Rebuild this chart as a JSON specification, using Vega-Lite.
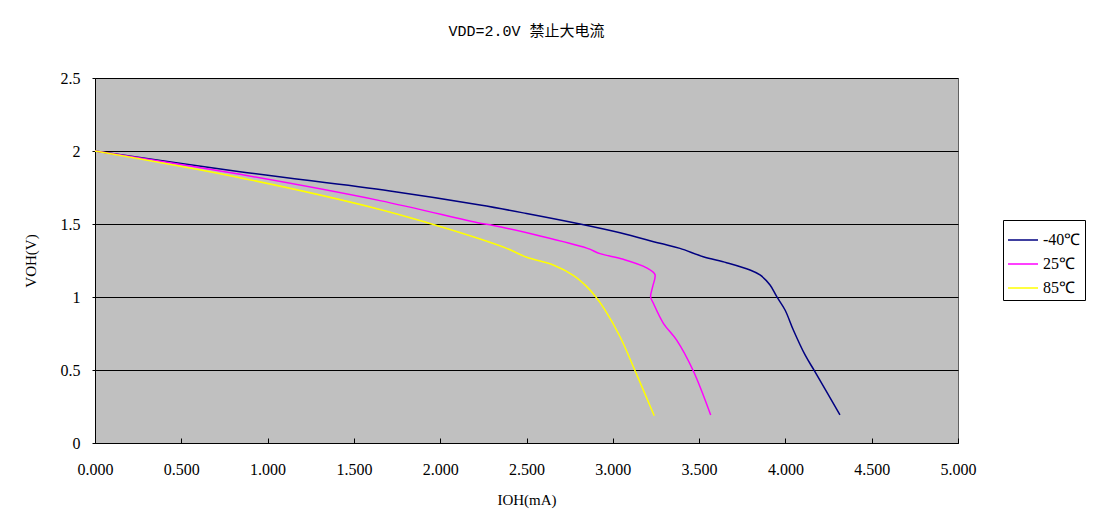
{
  "$schema": "https://vega.github.io/schema/vega-lite/v6.json",
  "autosize": {"type": "none"},
  "padding": {"left": 95, "top": 78, "right": 137, "bottom": 79},
  "width": 863,
  "height": 365,
  "background": "#ffffff",
  "title": {
    "text": "VDD=2.0V 禁止大电流",
    "font": "Liberation Mono, Noto Sans CJK SC",
    "fontSize": 15,
    "fontWeight": "normal",
    "color": "#000000",
    "anchor": "middle",
    "offset": 31
  },
  "config": {
    "view": {"fill": "#c0c0c0", "stroke": "#606060", "strokeWidth": 1},
    "font": "Liberation Serif",
    "axis": {
      "labelFont": "Liberation Serif",
      "titleFont": "Liberation Serif",
      "labelFontSize": 16,
      "titleFontSize": 15,
      "titleFontWeight": "normal",
      "labelColor": "#000000",
      "titleColor": "#000000",
      "domainColor": "#000000",
      "tickColor": "#000000"
    },
    "legend": {
      "labelFont": "Liberation Serif"
    }
  },
  "data": {
    "values": [
      {"series": "-40℃", "order": 1, "ioh": 0.0, "voh": 2.0},
      {"series": "-40℃", "order": 2, "ioh": 0.84, "voh": 1.858},
      {"series": "-40℃", "order": 3, "ioh": 1.709, "voh": 1.726},
      {"series": "-40℃", "order": 4, "ioh": 2.231, "voh": 1.63},
      {"series": "-40℃", "order": 5, "ioh": 2.5, "voh": 1.572},
      {"series": "-40℃", "order": 6, "ioh": 2.81, "voh": 1.5},
      {"series": "-40℃", "order": 7, "ioh": 3.042, "voh": 1.44},
      {"series": "-40℃", "order": 8, "ioh": 3.273, "voh": 1.368},
      {"series": "-40℃", "order": 9, "ioh": 3.389, "voh": 1.333},
      {"series": "-40℃", "order": 10, "ioh": 3.524, "voh": 1.276},
      {"series": "-40℃", "order": 11, "ioh": 3.659, "voh": 1.235},
      {"series": "-40℃", "order": 12, "ioh": 3.795, "voh": 1.185},
      {"series": "-40℃", "order": 13, "ioh": 3.853, "voh": 1.151},
      {"series": "-40℃", "order": 14, "ioh": 3.911, "voh": 1.082},
      {"series": "-40℃", "order": 15, "ioh": 3.95, "voh": 1.002},
      {"series": "-40℃", "order": 16, "ioh": 3.998, "voh": 0.911},
      {"series": "-40℃", "order": 17, "ioh": 4.046, "voh": 0.774},
      {"series": "-40℃", "order": 18, "ioh": 4.114, "voh": 0.603},
      {"series": "-40℃", "order": 19, "ioh": 4.171, "voh": 0.489},
      {"series": "-40℃", "order": 20, "ioh": 4.316, "voh": 0.192},
      {"series": "25℃", "order": 1, "ioh": 0.0, "voh": 2.0},
      {"series": "25℃", "order": 2, "ioh": 0.84, "voh": 1.84},
      {"series": "25℃", "order": 3, "ioh": 1.651, "voh": 1.66},
      {"series": "25℃", "order": 4, "ioh": 2.231, "voh": 1.505},
      {"series": "25℃", "order": 5, "ioh": 2.308, "voh": 1.49},
      {"series": "25℃", "order": 6, "ioh": 2.849, "voh": 1.335},
      {"series": "25℃", "order": 7, "ioh": 2.926, "voh": 1.297},
      {"series": "25℃", "order": 8, "ioh": 3.061, "voh": 1.258},
      {"series": "25℃", "order": 9, "ioh": 3.196, "voh": 1.2},
      {"series": "25℃", "order": 10, "ioh": 3.244, "voh": 1.155},
      {"series": "25℃", "order": 11, "ioh": 3.231, "voh": 1.071},
      {"series": "25℃", "order": 12, "ioh": 3.219, "voh": 1.002},
      {"series": "25℃", "order": 13, "ioh": 3.235, "voh": 0.957},
      {"series": "25℃", "order": 14, "ioh": 3.293, "voh": 0.82},
      {"series": "25℃", "order": 15, "ioh": 3.37, "voh": 0.705},
      {"series": "25℃", "order": 16, "ioh": 3.466, "voh": 0.495},
      {"series": "25℃", "order": 17, "ioh": 3.567, "voh": 0.192},
      {"series": "85℃", "order": 1, "ioh": 0.0, "voh": 2.0},
      {"series": "85℃", "order": 2, "ioh": 0.84, "voh": 1.817},
      {"series": "85℃", "order": 3, "ioh": 1.651, "voh": 1.6},
      {"series": "85℃", "order": 4, "ioh": 1.951, "voh": 1.5},
      {"series": "85℃", "order": 5, "ioh": 2.231, "voh": 1.397},
      {"series": "85℃", "order": 6, "ioh": 2.385, "voh": 1.333},
      {"series": "85℃", "order": 7, "ioh": 2.501, "voh": 1.272},
      {"series": "85℃", "order": 8, "ioh": 2.655, "voh": 1.219},
      {"series": "85℃", "order": 9, "ioh": 2.771, "voh": 1.148},
      {"series": "85℃", "order": 10, "ioh": 2.849, "voh": 1.071},
      {"series": "85℃", "order": 11, "ioh": 2.902, "voh": 1.0},
      {"series": "85℃", "order": 12, "ioh": 2.95, "voh": 0.92},
      {"series": "85℃", "order": 13, "ioh": 3.042, "voh": 0.728},
      {"series": "85℃", "order": 14, "ioh": 3.129, "voh": 0.495},
      {"series": "85℃", "order": 15, "ioh": 3.24, "voh": 0.187}
    ]
  },
  "mark": {"type": "line", "strokeWidth": 1.5, "interpolate": "catmull-rom"},
  "encoding": {
    "x": {
      "field": "ioh",
      "type": "quantitative",
      "scale": {"domain": [0, 5], "nice": false, "zero": false},
      "axis": {
        "title": "IOH(mA)",
        "values": [0, 0.5, 1, 1.5, 2, 2.5, 3, 3.5, 4, 4.5, 5],
        "format": ".3f",
        "grid": false,
        "tickSize": -5,
        "labelPadding": 23,
        "titlePadding": 15,
        "labelFlush": false
      }
    },
    "y": {
      "field": "voh",
      "type": "quantitative",
      "scale": {"domain": [0, 2.5], "nice": false},
      "axis": {
        "title": "VOH(V)",
        "values": [0, 0.5, 1, 1.5, 2, 2.5],
        "format": "~g",
        "grid": true,
        "gridColor": "#000000",
        "gridOpacity": 1,
        "gridWidth": 1,
        "tickSize": 3,
        "labelPadding": 12,
        "titlePadding": 22,
        "labelFlush": false
      }
    },
    "color": {
      "field": "series",
      "type": "nominal",
      "scale": {"domain": ["-40℃", "25℃", "85℃"], "range": ["#000080", "#ff00ff", "#ffff00"]},
      "legend": {
        "title": null,
        "orient": "none",
        "legendX": 908,
        "legendY": 142,
        "strokeColor": "#000000",
        "fillColor": "#ffffff",
        "padding": 4,
        "symbolType": "stroke",
        "symbolSize": 900,
        "symbolStrokeWidth": 1.5,
        "labelFontSize": 16,
        "labelColor": "#000000",
        "rowPadding": 0,
        "labelOffset": 4
      }
    },
    "order": {"field": "order", "type": "quantitative"}
  }
}
